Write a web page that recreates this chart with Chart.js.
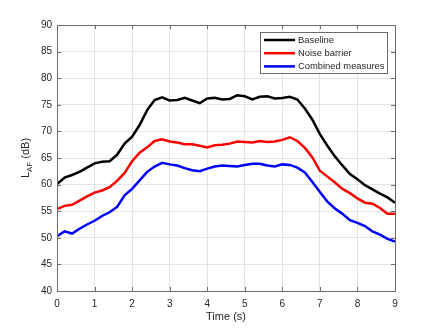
<!DOCTYPE html>
<html lang="en">
<head>
<meta charset="UTF-8">
<title>L_AF over time</title>
<script src="https://cdn.jsdelivr.net/npm/chart.js"></script>
<style>
  html, body { margin: 0; padding: 0; background: #fff; }
  #wrap { position: relative; width: 437px; height: 328px; }
</style>
</head>
<body>
<div id="wrap"><canvas id="chart" width="437" height="328"></canvas></div>
<script>
// time axis (s), one sample every 0.2 s
const times = [0,0.2,0.4,0.6,0.8,1,1.2,1.4,1.6,1.8,2,2.2,2.4,2.6,2.8,3,3.2,3.4,3.6,3.8,4,4.2,4.4,4.6,4.8,5,
  5.2,5.4,5.6,5.8,6,6.2,6.4,6.6,6.8,7,7.2,7.4,7.6,7.8,8,8.2,8.4,8.6,8.8,9];

const baseline = [60.1,61.3,61.8,62.4,63.2,64.0,64.3,64.4,65.6,67.7,69.0,71.2,74.0,75.9,76.4,75.8,75.9,76.3,75.8,75.3,76.2,76.3,76.0,76.1,76.8,76.6,
  76.0,76.5,76.6,76.2,76.3,76.5,76.0,74.3,72.2,69.5,67.3,65.3,63.6,62.0,61.0,59.9,59.1,58.3,57.6,56.6];

const noiseBarrier = [55.4,56.0,56.2,57.0,57.8,58.5,58.9,59.5,60.7,62.2,64.4,66.0,67.0,68.2,68.5,68.1,67.9,67.6,67.6,67.3,67.0,67.4,67.5,67.7,68.1,68.0,
  67.9,68.2,68.0,68.1,68.4,68.9,68.2,66.9,65.1,62.6,61.5,60.4,59.2,58.4,57.4,56.6,56.4,55.6,54.5,54.5];

const combined = [50.3,51.2,50.8,51.7,52.5,53.2,54.1,54.8,55.8,58.0,59.2,60.8,62.4,63.4,64.1,63.8,63.6,63.1,62.7,62.5,63.0,63.4,63.6,63.5,63.4,63.7,
  63.9,63.9,63.6,63.4,63.8,63.7,63.2,62.3,60.5,58.6,56.8,55.5,54.5,53.3,52.8,52.2,51.2,50.6,49.8,49.3];

const seriesNames = ["Baseline", "Noise barrier", "Combined measures"];
const seriesColors = ["#000000", "#ff0000", "#0000ff"];
const xTicks = [0,1,2,3,4,5,6,7,8,9];
const yTicks = [40,45,50,55,60,65,70,75,80,85,90];

const FONT = "Liberation Sans, Arial, Helvetica, sans-serif";
const TXT = "#262626";

function pts(vals) {
  return vals.map((v, i) => ({ x: times[i], y: v }));
}

// box, inward ticks, axis titles and legend, drawn the way MATLAB does it
const matlabAxes = {
  id: "matlabAxes",
  afterDraw(chart) {
    const ctx = chart.ctx;
    const a = chart.chartArea;
    const xs = chart.scales.x, ys = chart.scales.y;
    ctx.save();
    ctx.strokeStyle = "#6b6b6b";
    ctx.lineWidth = 1;
    ctx.strokeRect(Math.round(a.left) + 0.5, Math.round(a.top) + 0.5,
      Math.round(a.right - a.left), Math.round(a.bottom - a.top));
    ctx.beginPath();
    xTicks.forEach(t => {
      const px = Math.round(xs.getPixelForValue(t)) + 0.5;
      ctx.moveTo(px, a.bottom); ctx.lineTo(px, a.bottom - 4);
      ctx.moveTo(px, a.top); ctx.lineTo(px, a.top + 4);
    });
    yTicks.forEach(t => {
      const py = Math.round(ys.getPixelForValue(t)) + 0.5;
      ctx.moveTo(a.left, py); ctx.lineTo(a.left + 4, py);
      ctx.moveTo(a.right, py); ctx.lineTo(a.right - 4, py);
    });
    ctx.stroke();

    // x title
    ctx.fillStyle = TXT;
    ctx.font = "11px " + FONT;
    ctx.textAlign = "center";
    ctx.textBaseline = "middle";
    ctx.fillText("Time (s)", (a.left + a.right) / 2, 317);

    // y title with subscript
    ctx.translate(29, 158);
    ctx.rotate(-Math.PI / 2);
    ctx.textBaseline = "alphabetic";
    ctx.textAlign = "left";
    ctx.font = "11px " + FONT;
    const wL = ctx.measureText("L").width;
    const wU = ctx.measureText(" (dB)").width;
    ctx.font = "8px " + FONT;
    const wS = ctx.measureText("AF").width;
    let x0 = -(wL + wS + wU) / 2;
    ctx.font = "11px " + FONT;
    ctx.fillText("L", x0, 0);
    ctx.font = "8px " + FONT;
    ctx.fillText("AF", x0 + wL, 3);
    ctx.font = "11px " + FONT;
    ctx.fillText(" (dB)", x0 + wL + wS, 0);
    ctx.restore();

    // legend box
    ctx.save();
    const lx = 260, ly = 32, lw = 127, lh = 41;
    ctx.fillStyle = "#fff";
    ctx.fillRect(lx, ly, lw, lh);
    ctx.strokeStyle = "#6b6b6b";
    ctx.lineWidth = 1;
    ctx.strokeRect(lx + 0.5, ly + 0.5, lw, lh);
    ctx.font = "9.4px " + FONT;
    ctx.textBaseline = "middle";
    ctx.textAlign = "left";
    seriesNames.forEach((name, i) => {
      const y = 40 + i * 13.2;
      ctx.strokeStyle = seriesColors[i];
      ctx.lineWidth = 2.5;
      ctx.beginPath();
      ctx.moveTo(264, y); ctx.lineTo(295, y);
      ctx.stroke();
      ctx.fillStyle = TXT;
      ctx.fillText(name, 298, y + 0.5);
    });
    ctx.restore();
  }
};

new Chart(document.getElementById("chart"), {
  type: "line",
  data: {
    datasets: [baseline, noiseBarrier, combined].map((vals, i) => ({
      label: seriesNames[i],
      data: pts(vals),
      borderColor: seriesColors[i],
      borderWidth: 2.5,
      pointRadius: 0,
      tension: 0,
      fill: false
    }))
  },
  options: {
    responsive: false,
    animation: false,
    layout: { padding: { left: 0, right: 42, top: 25, bottom: 0 } },
    plugins: { legend: { display: false }, tooltip: { enabled: false } },
    scales: {
      x: {
        type: "linear",
        min: 0, max: 9,
        afterFit: s => { s.height = 37; },
        afterBuildTicks: s => { s.ticks = xTicks.map(v => ({ value: v })); },
        grid: { color: "#e3e3e3", drawTicks: false },
        border: { display: false },
        ticks: { color: TXT, font: { family: FONT, size: 10 }, padding: 7, maxRotation: 0 }
      },
      y: {
        min: 40, max: 90,
        afterFit: s => { s.width = 57; },
        afterBuildTicks: s => { s.ticks = yTicks.map(v => ({ value: v })); },
        grid: { color: "#e3e3e3", drawTicks: false },
        border: { display: false },
        ticks: { color: TXT, font: { family: FONT, size: 10 }, padding: 5 }
      }
    }
  },
  plugins: [matlabAxes]
});
</script>
</body>
</html>
